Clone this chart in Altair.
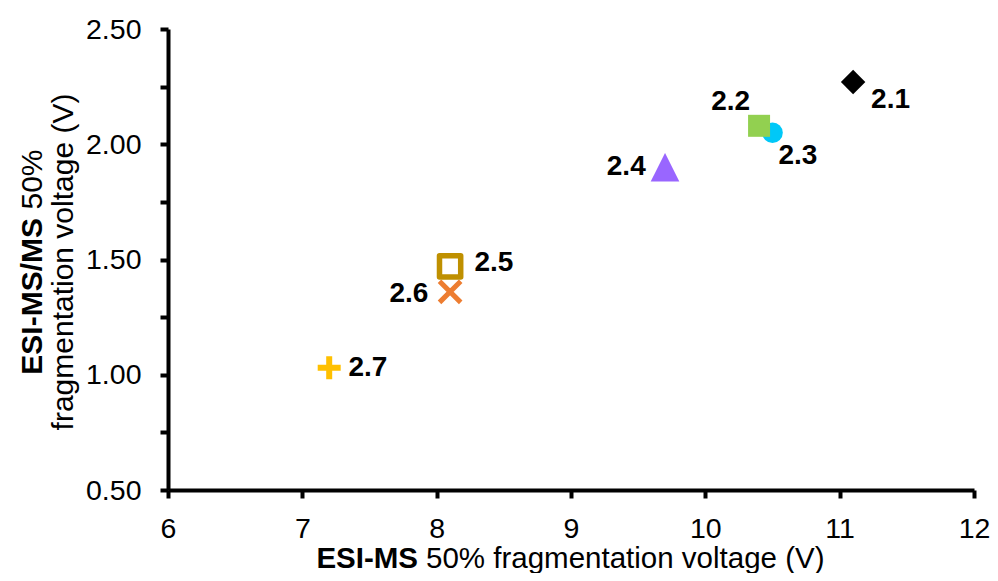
import altair as alt
import pandas as pd

# ---- data ----
labels = ["2.1", "2.2", "2.3", "2.4", "2.5", "2.6", "2.7"]
esi_ms = [11.1, 10.4, 10.5, 9.7, 8.1, 8.1, 7.2]          # ESI-MS 50% fragmentation voltage (V)
esi_msms = [2.27, 2.08, 2.05, 1.90, 1.47, 1.36, 1.03]    # ESI-MS/MS 50% fragmentation voltage (V)
x_ticks = [6, 7, 8, 9, 10, 11, 12]
y_ticks = [0.5, 0.75, 1.0, 1.25, 1.5, 1.75, 2.0, 2.25, 2.5]

x_title_bold = "ESI-MS"
x_title_rest = "50% fragmentation voltage (V)"
y_title_bold = "ESI-MS/MS"
y_title_rest = "50%"
y_title_line2 = "fragmentation voltage (V)"

FONT = "Liberation Sans, Arial, Helvetica, sans-serif"

df = pd.DataFrame({"label": labels, "x": esi_ms, "y": esi_msms})

# ---- styles (marker look and label placement) ----
marker_style = {
    "2.1": dict(shape="diamond", filled=True, color="#000000", size=600),
    "2.2": dict(shape="square", filled=True, color="#92D050", size=484),
    "2.3": dict(shape="circle", filled=True, color="#00C8F8", size=426),
    "2.4": dict(shape="M0,-1L1,1L-1,1Z", filled=True, color="#9966FF", size=820),
    "2.5": dict(shape="square", filled=False, color="#BF9000", size=450, strokeWidth=5.5, strokeJoin="round"),
    "2.6": dict(shape="M-1,-1L1,1M-1,1L1,-1", filled=False, color="#ED7D31", size=450, strokeWidth=5),
    "2.7": dict(shape="M-1,0L1,0M0,-1L0,1", filled=False, color="#FFC000", size=529, strokeWidth=6),
}
label_style = {
    "2.1": ("left", 18, 18),
    "2.2": ("right", -9, -23.6),
    "2.3": ("left", 6, 23.6),
    "2.4": ("right", -19.3, 0),
    "2.5": ("left", 24.3, -3.4),
    "2.6": ("right", -21.7, 2.4),
    "2.7": ("left", 19.2, 0),
}
draw_order = ["2.1", "2.3", "2.2", "2.4", "2.6", "2.5", "2.7"]

x_enc = alt.X(
    "x:Q",
    scale=alt.Scale(domain=[6, 12], nice=False, zero=False),
    axis=alt.Axis(values=x_ticks, title="", labelFlush=False, format="d", labelPadding=16),
)
y_enc = alt.Y(
    "y:Q",
    scale=alt.Scale(domain=[0.5, 2.5], nice=False, zero=False),
    axis=alt.Axis(
        values=y_ticks,
        title="",
        labelFlush=False,
        labelOverlap=False,
        labelPadding=19,
        labelExpr="(round(datum.value*100) % 50 == 0) ? format(datum.value, '.2f') : ''",
    ),
)

base = alt.Chart(df)
layers = []
for lab in draw_order:
    st = dict(marker_style[lab])
    layers.append(
        base.transform_filter(alt.datum.label == lab)
        .mark_point(opacity=1, **st)
        .encode(x=x_enc, y=y_enc)
    )
for lab in labels:
    align, dx, dy = label_style[lab]
    layers.append(
        base.transform_filter(alt.datum.label == lab)
        .mark_text(align=align, baseline="middle", dx=dx, dy=dy, font=FONT,
                   fontSize=28, fontWeight="bold", color="black")
        .encode(x=x_enc, y=y_enc, text="label:N")
    )


def title_text(txt, px, py, align, bold, angle=0, size=30):
    kw = dict(align=align, baseline="alphabetic", font=FONT, fontSize=size,
              fontWeight="bold" if bold else "normal", color="black")
    if angle:
        kw["angle"] = angle
    return (
        alt.Chart(pd.DataFrame({"t": [txt]}))
        .mark_text(**kw)
        .encode(x=alt.value(px), y=alt.value(py), text="t:N")
    )


# x title (plot origin is at page (168, 29))
layers.append(title_text(x_title_bold, 250, 539, "right", True, size=29.5))
layers.append(title_text(x_title_rest, 258, 539, "left", False, size=29.5))
# y title, two lines rotated
layers.append(title_text(y_title_bold, -126, 189, "right", True, 270))
layers.append(title_text(y_title_rest, -126, 180.5, "left", False, 270))
layers.append(title_text(y_title_line2, -95, 233, "center", False, 270))

chart = (
    alt.layer(*layers)
    .properties(
        width=806,
        height=461,
        autosize=alt.AutoSizeParams(type="none"),
        padding={"left": 160, "top": 21, "right": 16, "bottom": 83},
    )
    .configure_view(stroke=None)
    .configure_axis(
        grid=False,
        domainColor="black",
        domainWidth=4,
        tickColor="black",
        tickWidth=4,
        tickSize=8,
        labelFont=FONT,
        labelFontSize=28.5,
        labelColor="black",
    )
)

chart.save("out.html", embed_options={"renderer": "svg", "actions": False})
